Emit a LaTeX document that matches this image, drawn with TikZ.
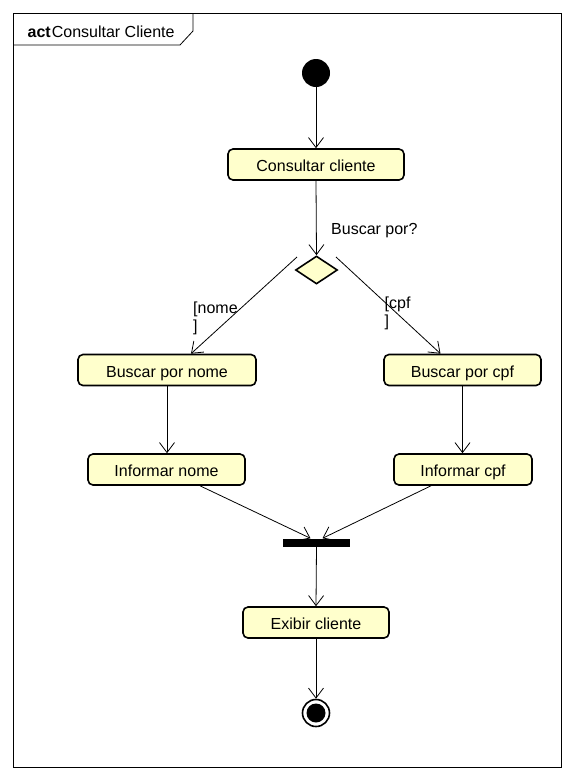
\documentclass[tikz,border=0pt]{standalone}
\usepackage{fontspec}
\setmainfont{Liberation Sans}
\usetikzlibrary{arrows.meta,shapes.geometric}
\definecolor{actfill}{HTML}{FFFFCC}
\tikzset{
  action/.style={draw, line width=1.6pt, fill=actfill, rounded corners=5pt, minimum height=31pt, inner sep=0pt, text height=14pt, text depth=0pt, font=\fontsize{16}{18}\selectfont},
  arr/.style={line width=0.8pt, -{Straight Barb[length=10pt,width=15pt,line width=0.8pt]}},
  lbl/.style={font=\fontsize{16}{18}\selectfont, inner sep=0pt, anchor=base west},
}
\begin{document}
\begin{tikzpicture}[x=1pt,y=-1pt]
\useasboundingbox (0,0) rectangle (574,780);
% frame
\draw[line width=0.8pt] (13,13) rectangle (561,767);
\draw[line width=0.8pt] (13,45) -- (180,45) -- (193,31) -- (193,13);
\node[lbl] (title) at (27.5,37.5) {\textbf{act}\kern1pt Consultar Cliente};
% nodes
\node[circle, fill=black, minimum size=28pt, inner sep=0pt] (start) at (316,73) {};
\node[action, minimum width=176pt] (cc) at (316,164.5) {Consultar cliente};
\node[diamond, draw, line width=1.6pt, fill=actfill, minimum width=42pt, minimum height=28pt, inner sep=0pt] (d) at (316.5,270) {};
\node[lbl] (q) at (331,234.5) {Buscar por?};
\node[action, minimum width=178pt] (bn) at (167,370) {Buscar por nome};
\node[action, minimum width=157pt] (bc) at (462.5,370) {Buscar por cpf};
\node[action, minimum width=157pt] (inome) at (166.5,469.5) {Informar nome};
\node[action, minimum width=138pt] (icpf) at (463,469.5) {Informar cpf};
\node[fill=black, minimum width=67pt, minimum height=8pt, inner sep=0pt] (fork) at (316.5,542.5) {};
\node[action, minimum width=146pt] (ex) at (316,622.5) {Exibir cliente};
\node[circle, draw, line width=1.6pt, fill=white, minimum size=27pt, inner sep=0pt] (end) at (316,713) {};
\node[circle, fill=black, minimum size=19pt, inner sep=0pt] (endin) at (end.center) {};
% guards
\node[lbl] (g1) at (193,313.5) {[nome};
\node[lbl] (g1b) at (193,331) {]};
\node[lbl] (g2) at (384.5,308) {[cpf};
\node[lbl] (g2b) at (384.5,326.5) {]};
% edges
\draw[arr] (start) -- (cc.north);
\draw[arr] (cc.south) -- (d.north);
\draw[arr] ([xshift=-19.5pt,yshift=13pt]d.center) -- ([xshift=24pt]bn.north);
\draw[arr] ([xshift=19.5pt,yshift=13pt]d.center) -- ([xshift=-22pt]bc.north);
\draw[arr] (bn.south) -- ([xshift=0.5pt]inome.north);
\draw[arr] (bc.south) -- ([xshift=-0.5pt]icpf.north);
\draw[arr] ([xshift=33.5pt]inome.south) -- ([xshift=-6pt]fork.north);
\draw[arr] ([xshift=-32pt]icpf.south) -- ([xshift=6pt]fork.north);
\draw[arr] (fork.south) -- (ex.north);
\draw[arr] (ex.south) -- (end.north);
\end{tikzpicture}
\end{document}
